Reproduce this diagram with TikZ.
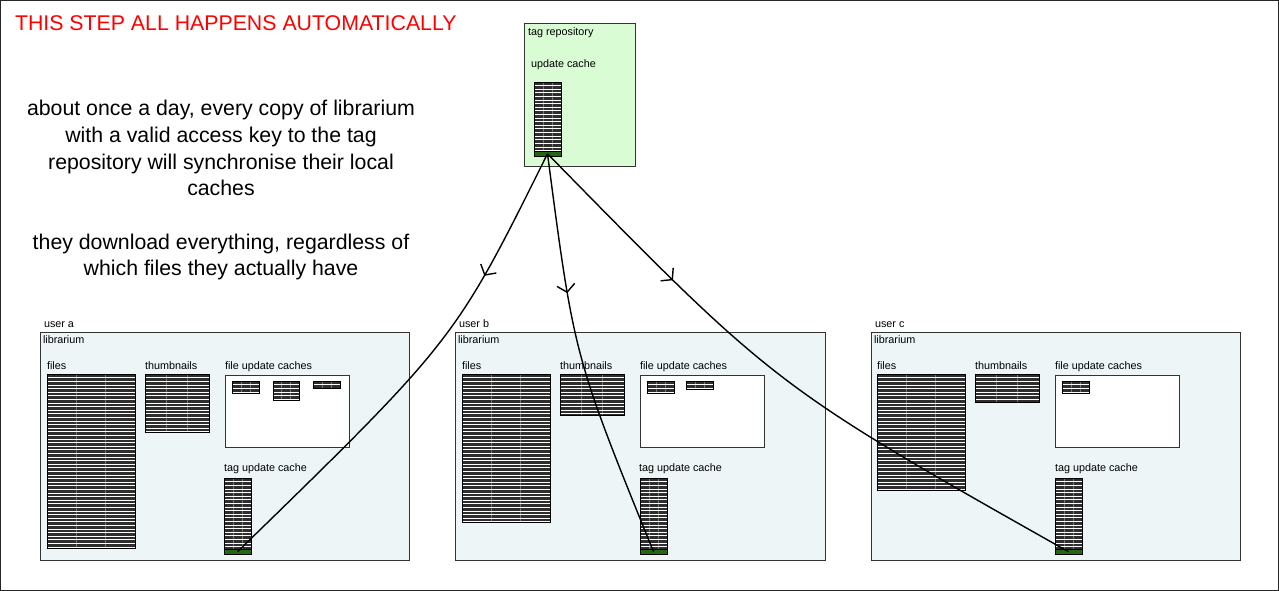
\documentclass[tikz,border=0pt]{standalone}
\usepackage{fontspec}
\setmainfont{Liberation Sans}
\usetikzlibrary{arrows.meta, positioning, calc, decorations.markings}
\usepackage{xcolor}
\definecolor{libblue}{RGB}{237, 245, 247}
\definecolor{repogreen}{RGB}{217, 252, 212}
\definecolor{bargreen}{RGB}{38, 102, 18}
\definecolor{boxline}{RGB}{51, 51, 51}
\definecolor{alertred}{RGB}{255, 0, 0}

\begin{document}
\begin{tikzpicture}[
  x=1pt, y=-1pt,
  every node/.style={inner sep=0pt, outer sep=0pt},
  lbl/.style={font=\fontsize{10.8}{13}\selectfont, anchor=base west},
  note/.style={font=\fontsize{21.3}{26.6}\selectfont, align=center, anchor=north},
  panel/.style={draw=boxline, line width=1pt, fill=libblue, anchor=north west},
  repobox/.style={draw=boxline, line width=1pt, fill=repogreen, anchor=north west},
  fucbox/.style={draw=boxline, line width=1pt, fill=white, anchor=north west},
  cachestack/.style={draw=black, line width=0.8pt, fill=black!82, anchor=north west,
    path picture={
      \foreach \k in {1,...,50}
        \draw[white, line width=0.6pt] ($(path picture bounding box.north west)+(0,\k*3.6)$) -- ++(300,0);
      \foreach \f in {0.333, 0.667}
        \draw[white, opacity=0.35, line width=0.5pt]
          ($(path picture bounding box.north west)!\f!(path picture bounding box.north east)$) -- ++(0,300);
    }},
  bar/.style={draw=black, line width=0.8pt, fill=bargreen, anchor=north west, minimum height=5.5pt},
  sync/.style={line width=1.4pt, black},
  midarrow/.style={decoration={markings, mark=at position #1 with {\arrow{Straight Barb[length=7.5pt, width=18pt, line width=1.4pt]}}}, postaction={decorate}}
]
  \useasboundingbox (0,0) rectangle (1279,591);
  \draw[line width=1.2pt, black!85] (0.6,0.6) rectangle (1278.4,590.4);

  % heading and notes
  \node[lbl, font=\fontsize{21.3}{26}\selectfont, text=alertred] (heading) at (15,30.7) {THIS STEP ALL HAPPENS AUTOMATICALLY};
  \node[note] (syncnote) at (221,100.5) {about once a day, every copy of librarium\\with a valid access key to the tag\\repository will synchronise their local\\caches};
  \node[note] (dlnote) at (221,233.8) {they download everything, regardless of\\which files they actually have};

  % tag repository
  \node[repobox, minimum width=111pt, minimum height=142pt] (repo) at (524,24) {};
  \node[lbl] (reponame) at (528,36) {tag repository};
  \node[lbl] (repocachename) at (531,68) {update cache};
  \node[cachestack, minimum width=27pt, minimum height=69pt] (repostack) at (534,82) {};
  \node[bar, minimum width=27pt] (repobar) at (534,151) {};

  % user a
  \node[lbl] (auser) at (44,327) {user a};
  \node[panel, minimum width=369pt, minimum height=228pt] (alib) at (40,332) {};
  \node[lbl] (alibname) at (43,343) {librarium};
  \node[lbl] (afilesname) at (47,369) {files};
  \node[cachestack, minimum width=88pt, minimum height=174pt] (afiles) at (47,374) {};
  \node[lbl] (athumbsname) at (145,369) {thumbnails};
  \node[cachestack, minimum width=64pt, minimum height=58pt] (athumbs) at (145,374) {};
  \node[lbl] (afucname) at (225,369) {file update caches};
  \node[fucbox, minimum width=124pt, minimum height=72pt] (afuc) at (225,375) {};
  \node[cachestack, minimum width=27pt, minimum height=12pt] (afuc1) at (232,381) {};
  \node[cachestack, minimum width=26pt, minimum height=19pt] (afuc2) at (273,381) {};
  \node[cachestack, minimum width=27pt, minimum height=7pt] (afuc3) at (313,381) {};
  \node[lbl] (atagname) at (224,471) {tag update cache};
  \node[cachestack, minimum width=27pt, minimum height=71pt] (atag) at (224,478) {};
  \node[bar, minimum width=27pt] (abar) at (224,549) {};

  % user b
  \node[lbl] (buser) at (459,327) {user b};
  \node[panel, minimum width=370pt, minimum height=228pt] (blib) at (455,332) {};
  \node[lbl] (blibname) at (458,343) {librarium};
  \node[lbl] (bfilesname) at (462,369) {files};
  \node[cachestack, minimum width=88pt, minimum height=148pt] (bfiles) at (462,374) {};
  \node[lbl] (bthumbsname) at (560,369) {thumbnails};
  \node[cachestack, minimum width=64pt, minimum height=41pt] (bthumbs) at (560,374) {};
  \node[lbl] (bfucname) at (640,369) {file update caches};
  \node[fucbox, minimum width=124pt, minimum height=72pt] (bfuc) at (640,375) {};
  \node[cachestack, minimum width=27pt, minimum height=12pt] (bfuc1) at (647,381) {};
  \node[cachestack, minimum width=27pt, minimum height=8pt] (bfuc2) at (686,381) {};
  \node[lbl] (btagname) at (639,471) {tag update cache};
  \node[cachestack, minimum width=27pt, minimum height=71pt] (btag) at (640,478) {};
  \node[bar, minimum width=27pt] (bbar) at (640,549) {};

  % user c
  \node[lbl] (cuser) at (875,327) {user c};
  \node[panel, minimum width=369pt, minimum height=228pt] (clib) at (871,332) {};
  \node[lbl] (clibname) at (874,343) {librarium};
  \node[lbl] (cfilesname) at (877,369) {files};
  \node[cachestack, minimum width=88pt, minimum height=116pt] (cfiles) at (877,374) {};
  \node[lbl] (cthumbsname) at (975,369) {thumbnails};
  \node[cachestack, minimum width=64pt, minimum height=28pt] (cthumbs) at (975,374) {};
  \node[lbl] (cfucname) at (1055,369) {file update caches};
  \node[fucbox, minimum width=124pt, minimum height=72pt] (cfuc) at (1055,375) {};
  \node[cachestack, minimum width=27pt, minimum height=12pt] (cfuc1) at (1062,381) {};
  \node[lbl] (ctagname) at (1055,471) {tag update cache};
  \node[cachestack, minimum width=27pt, minimum height=71pt] (ctag) at (1055,478) {};
  \node[bar, minimum width=27pt] (cbar) at (1055,549) {};

  % synchronisation
  \draw[sync, midarrow=0.27] (repobar.center) .. controls (455,340) .. (abar.center);
  \draw[sync, midarrow=0.34] (repobar.center) .. controls (574,356) .. (bbar.center);
  \draw[sync, midarrow=0.27] (repobar.center) .. controls (775,386) .. (cbar.center);
\end{tikzpicture}
\end{document}
